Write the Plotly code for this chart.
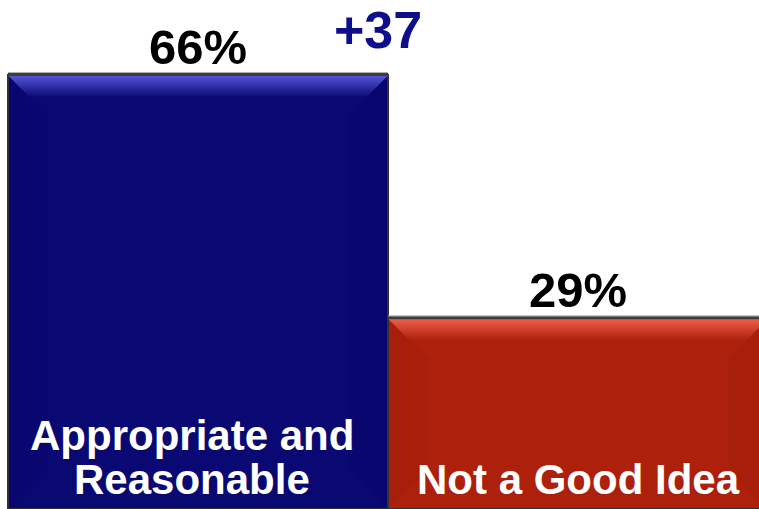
import plotly.graph_objects as go

# Survey result: share of respondents per opinion
categories = ["Appropriate and Reasonable", "Not a Good Idea"]
label_lines = [["Appropriate and", "Reasonable"], ["Not a Good Idea"]]
values = [66, 29]
value_labels = ["66%", "29%"]

# Styling
base_colors = [(10, 8, 114), (172, 32, 12)]
top_colors = [(85, 85, 215), (255, 112, 88)]

W, H = 759, 509
X_RANGE = [-0.521, 1.476]
Y_MAX = 77.4
PX_PER_X = W / (X_RANGE[1] - X_RANGE[0])
HALF_BAR_PX = 0.5 * PX_PER_X

def rgb(c):
    return "rgb(%d,%d,%d)" % c

def mix(a, b, t):
    return tuple(round(a[i] + (b[i] - a[i]) * t) for i in range(3))

fig = go.Figure()
fig.add_trace(go.Bar(
    x=list(range(len(categories))),
    y=values,
    width=1.0,
    marker=dict(color=[rgb(c) for c in base_colors],
                line=dict(color="rgb(50,50,50)", width=2)),
    hoverinfo="skip",
))

shapes = []
BEVEL = 40
GRAD = 22
for i, v in enumerate(values):
    bar_px = v / Y_MAX * H
    b = int(min(BEVEL, bar_px / 2))
    h = HALF_BAR_PX
    # very faint side bevels (left and right trapezoids)
    left = f"M {-h},0 L {-h + b},{-b} L {-h + b},{-bar_px + b} L {-h},{-bar_px} Z"
    right = f"M {h},0 L {h - b},{-b} L {h - b},{-bar_px + b} L {h},{-bar_px} Z"
    for p in (left, right):
        shapes.append(dict(type="path", path=p, xsizemode="pixel", ysizemode="pixel",
                           xanchor=i, yanchor=v, xref="x", yref="y",
                           fillcolor="rgba(0,0,0,0.025)", line=dict(width=0), layer="above"))
    # top highlight band fading into the bar colour, cut diagonally at the corners
    for d in range(GRAD):
        t = d / GRAD
        col = mix(top_colors[i], base_colors[i], t)
        shapes.append(dict(type="rect", xsizemode="pixel", ysizemode="pixel",
                           xanchor=i, yanchor=v, xref="x", yref="y",
                           x0=-h + d, x1=h - d, y0=-d - 1, y1=-d,
                           fillcolor=rgb(col), line=dict(width=0), layer="above"))
    # dark top rim with a thin light line above it
    shapes.append(dict(type="rect", xsizemode="pixel", ysizemode="pixel",
                       xanchor=i, yanchor=v, xref="x", yref="y",
                       x0=-h, x1=h, y0=-1, y1=2,
                       fillcolor="rgb(60,60,60)", line=dict(width=0), layer="above"))
    shapes.append(dict(type="rect", xsizemode="pixel", ysizemode="pixel",
                       xanchor=i, yanchor=v, xref="x", yref="y",
                       x0=-h, x1=h, y0=2, y1=3,
                       fillcolor="rgb(175,175,175)", line=dict(width=0), layer="above"))

annotations = []
FONT = "Arial, Liberation Sans, sans-serif"
for i, (v, lab) in enumerate(zip(values, value_labels)):
    annotations.append(dict(x=i, y=v, xref="x", yref="y", text=f"<b>{lab}</b>",
                            showarrow=False, yanchor="bottom", yshift=-1,
                            font=dict(family=FONT, size=49, color="black")))
for i, lines in enumerate(label_lines):
    n = len(lines)
    for k, line in enumerate(lines):
        annotations.append(dict(x=i - (0.015 if n > 1 else 0.0), y=0, xref="x", yref="y",
                                text=f"<b>{line}</b>", showarrow=False,
                                yanchor="bottom", yshift=4 + 44 * (n - 1 - k),
                                font=dict(family=FONT, size=42, color="white")))

lead = values[0] - values[1]
annotations.append(dict(x=0.498, y=1, xref="paper", yref="paper",
                        text=f"<b>+{lead}</b>", showarrow=False, yanchor="top",
                        yshift=1,
                        font=dict(family=FONT, size=52, color="rgb(14,14,140)")))

fig.update_layout(
    width=W, height=H,
    margin=dict(l=0, r=0, t=0, b=0),
    paper_bgcolor="white", plot_bgcolor="white",
    showlegend=False, bargap=0,
    xaxis=dict(range=X_RANGE, visible=False, fixedrange=True),
    yaxis=dict(range=[0, Y_MAX], visible=False, fixedrange=True),
    shapes=shapes, annotations=annotations,
)

fig.write_html("out.html")
